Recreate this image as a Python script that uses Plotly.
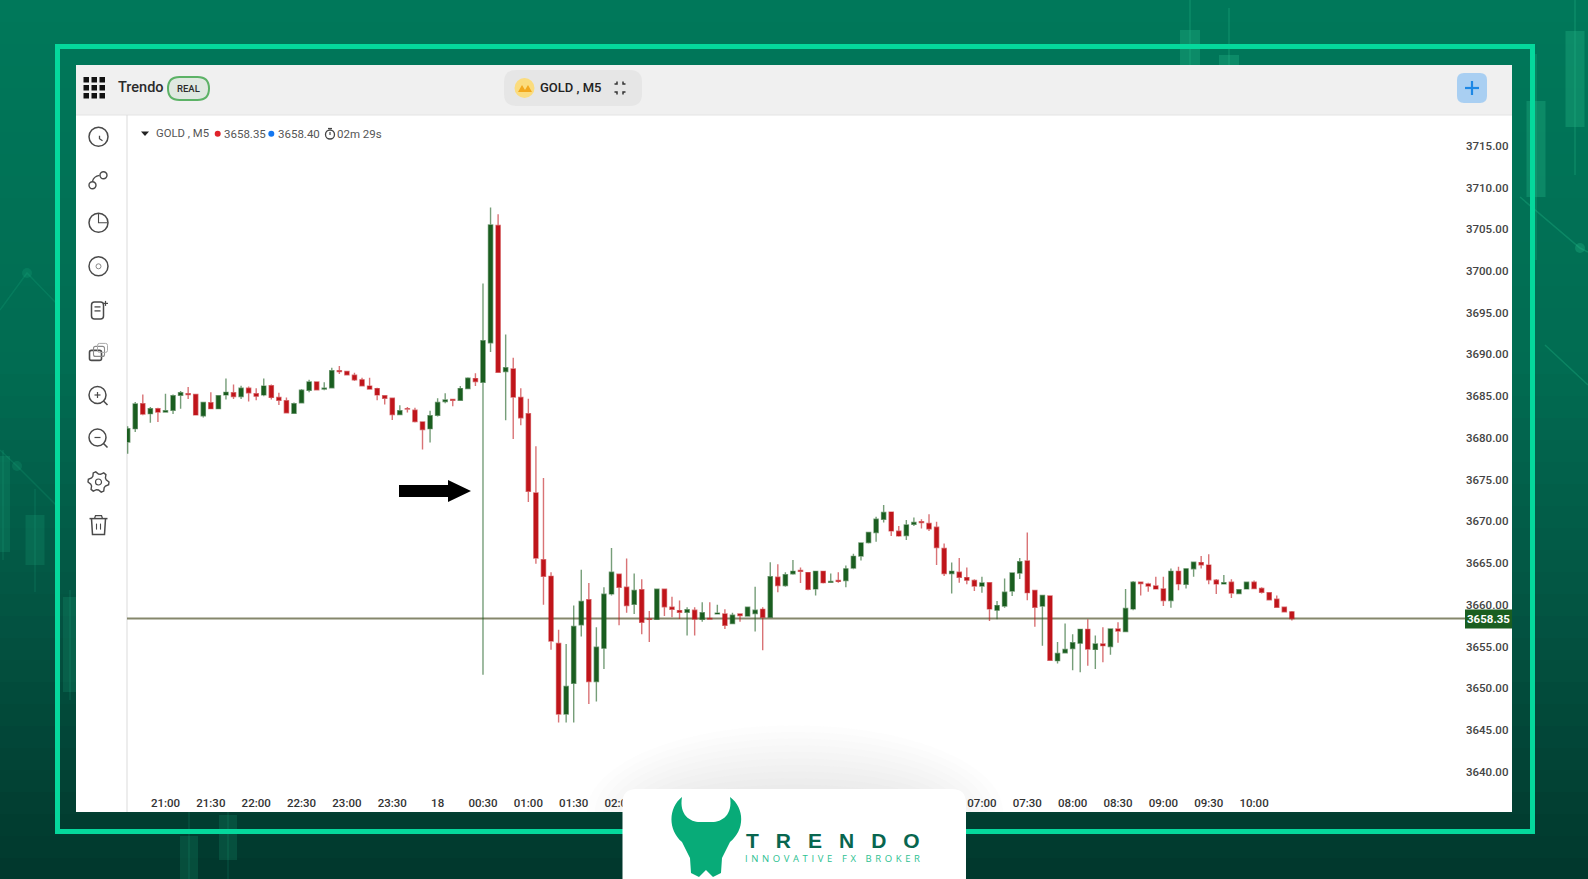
import math
import plotly.graph_objects as go

W, H = 1588, 879

open_prices = [
    3679.5,3681.1,3684.1,3682.9,3683.5,3683.1,3683.3,3685.1,3685.3,3685.2,
    3682.65,3684.2,3683.5,3685.15,3685.4,3684.95,3685.95,3685.3,3685.15,3686.25,
    3684.85,3684.45,3682.95,3684.2,3685.7,3686.7,3685.85,3686.0,3688.05,3687.95,
    3687.5,3686.95,3686.2,3685.9,3685.05,3684.75,3682.8,3683.5,3683.3,3681.9,
    3681.1,3682.7,3684.35,3684.6,3684.5,3685.9,3687.1,3686.65,3691.4,3705.45,
    3687.95,3688.25,3684.85,3682.9,3673.4,3665.4,3663.4,3655.35,3646.9,3650.6,
    3657.6,3660.6,3650.8,3654.8,3661.3,3663.65,3662.1,3660.05,3661.8,3658.3,
    3658.25,3661.85,3659.7,3659.3,3659.1,3659.35,3658.25,3658.35,3658.9,3658.9,
    3657.75,3658.9,3658.65,3658.95,3659.45,3658.5,3663.3,3662.3,3663.7,3664.1,
    3663.85,3661.9,3664.0,3662.7,3662.9,3662.9,3664.4,3665.85,3667.45,3668.65,
    3670.25,3671.1,3668.8,3668.3,3669.65,3669.95,3669.75,3669.3,3666.75,3663.75,
    3663.9,3663.25,3662.9,3662.25,3662.65,3659.35,3659.85,3661.65,3663.8,3665.25,
    3661.7,3659.85,3661.05,3653.3,3654.25,3654.75,3655.4,3657.05,3654.65,3655.3,
    3655.0,3657.1,3656.8,3659.5,3662.7,3662.5,3662.25,3661.9,3660.5,3664.0,
    3662.45,3664.3,3665.05,3664.75,3662.95,3662.5,3662.7,3661.35,3661.9,3662.7,
    3661.95,3661.45,3660.65,3659.7,3659.15,
]
high_prices = [
    3681.4,3684.3,3685.2,3683.7,3683.6,3685.3,3685.2,3685.6,3686.1,3685.2,
    3684.3,3685.45,3685.1,3687.1,3686.4,3686.25,3686.15,3685.95,3687.1,3686.4,
    3685.4,3684.85,3684.25,3685.85,3686.95,3686.75,3686.65,3688.4,3688.6,3688.05,
    3687.8,3687.2,3687.2,3686.0,3685.15,3684.8,3683.9,3683.7,3683.6,3681.95,
    3683.25,3684.75,3685.35,3684.6,3686.2,3687.25,3687.75,3698.5,3707.6,3706.8,
    3692.4,3689.6,3685.95,3684.7,3679.0,3675.2,3663.9,3657.0,3655.3,3659.9,
    3664.2,3662.6,3657.3,3662.1,3666.8,3663.65,3665.55,3663.75,3663.05,3659.25,
    3661.85,3661.85,3660.95,3660.5,3659.7,3659.7,3660.3,3660.3,3660.0,3659.45,
    3659.05,3658.95,3659.75,3662.15,3659.7,3665.1,3664.85,3663.9,3665.35,3664.45,
    3663.9,3664.0,3664.05,3663.75,3663.9,3664.7,3666.1,3667.5,3668.75,3670.55,
    3671.95,3671.15,3669.45,3670.15,3670.45,3670.25,3670.85,3669.95,3667.35,3665.05,
    3665.6,3664.45,3663.05,3663.35,3662.65,3660.45,3663.15,3663.85,3665.6,3668.65,
    3661.75,3661.2,3661.05,3655.55,3657.75,3656.45,3657.1,3658.25,3656.3,3657.3,
    3657.15,3657.9,3661.9,3662.85,3662.7,3662.65,3663.35,3663.35,3664.35,3664.55,
    3664.35,3665.1,3665.85,3666.05,3663.1,3663.55,3663.05,3661.9,3662.75,3662.9,
    3662.1,3661.5,3661.1,3659.8,3659.25,
]
low_prices = [
    3678.1,3680.7,3682.7,3681.8,3681.9,3683.0,3682.85,3683.5,3684.65,3682.7,
    3682.45,3683.45,3683.45,3684.6,3684.65,3684.65,3684.35,3684.5,3685.0,3684.6,
    3683.95,3683.0,3682.9,3684.15,3685.45,3685.7,3685.7,3685.95,3687.65,3687.5,
    3686.8,3686.15,3685.75,3684.5,3684.0,3682.15,3682.75,3683.05,3681.85,3678.6,
    3679.45,3682.55,3684.15,3683.8,3684.45,3685.85,3686.2,3651.6,3690.3,3687.85,
    3682.1,3679.85,3681.5,3672.3,3664.9,3660.0,3654.6,3645.9,3645.9,3645.9,
    3656.2,3648.1,3648.4,3652.3,3661.1,3657.55,3659.05,3658.9,3656.45,3655.55,
    3658.2,3658.65,3658.5,3658.3,3656.3,3656.3,3657.95,3658.25,3658.9,3657.1,
    3657.7,3657.95,3658.55,3656.8,3654.55,3658.4,3661.5,3662.15,3663.6,3662.6,
    3661.75,3661.1,3662.55,3662.65,3662.65,3662.1,3664.25,3665.3,3667.35,3667.55,
    3669.85,3668.25,3668.15,3667.75,3669.45,3669.15,3668.85,3664.75,3663.45,3661.35,
    3662.65,3662.45,3661.65,3661.45,3658.05,3658.25,3659.65,3661.05,3663.1,3660.55,
    3657.35,3655.1,3653.3,3652.95,3654.15,3652.15,3651.9,3652.7,3652.3,3653.1,
    3654.0,3655.45,3656.7,3659.35,3661.1,3661.55,3661.85,3659.85,3659.65,3661.75,
    3661.95,3663.35,3664.35,3662.45,3661.3,3662.5,3660.8,3661.3,3661.85,3661.9,
    3661.35,3660.5,3659.6,3659.1,3658.1,
]
close_prices = [
    3681.1,3684.05,3682.85,3683.5,3683.1,3683.25,3685.05,3685.4,3685.2,3682.75,
    3684.25,3683.5,3685.05,3685.45,3684.95,3685.95,3685.4,3685.0,3686.2,3684.85,
    3684.5,3683.0,3684.1,3685.7,3686.7,3685.75,3685.95,3688.05,3687.95,3687.55,
    3686.95,3686.25,3685.85,3685.15,3684.75,3682.8,3683.25,3683.45,3681.95,3681.0,
    3682.65,3684.25,3684.55,3684.5,3685.9,3687.15,3686.75,3691.65,3705.5,3687.85,
    3688.4,3684.9,3682.4,3673.6,3665.6,3663.4,3655.65,3646.9,3650.2,3657.4,
    3660.4,3650.8,3654.9,3661.25,3663.9,3662.1,3659.9,3661.7,3657.9,3658.25,
    3661.85,3659.75,3659.45,3659.1,3659.4,3658.3,3659.05,3658.3,3659.0,3657.55,
    3658.75,3658.7,3659.7,3659.35,3658.5,3663.35,3662.3,3663.6,3664.0,3664.0,
    3661.85,3664.0,3662.65,3662.8,3662.8,3664.3,3665.8,3667.4,3668.65,3670.25,
    3671.05,3668.85,3668.25,3669.55,3669.85,3669.85,3669.1,3666.85,3663.75,3664.0,
    3663.3,3662.95,3662.25,3662.6,3659.5,3659.9,3661.5,3663.8,3665.15,3661.45,
    3659.7,3661.1,3653.35,3654.15,3654.65,3655.45,3657.05,3654.7,3655.3,3655.1,
    3657.1,3656.85,3659.55,3662.7,3662.55,3662.25,3661.9,3660.5,3664.0,3662.5,
    3664.3,3665.1,3664.8,3663.0,3662.5,3662.65,3661.4,3661.8,3662.7,3661.95,
    3661.5,3660.6,3659.7,3659.15,3658.35,
]
bar_index = list(range(len(close_prices)))

time_tick_positions = [5, 11, 17, 23, 29, 35, 41, 47, 53, 59, 65, 113, 119, 125, 131, 137, 143, 149]
time_tick_labels = ["21:00", "21:30", "22:00", "22:30", "23:00", "23:30", "18", "00:30", "01:00",
                    "01:30", "02:00", "07:00", "07:30", "08:00", "08:30", "09:00", "09:30", "10:00"]
price_ticks = [3715, 3710, 3705, 3700, 3695, 3690, 3685, 3680, 3675, 3670, 3665, 3660, 3655, 3650, 3645, 3640]
price_tick_labels = ["3715.00", "3710.00", "3705.00", "3700.00", "3695.00", "3690.00", "3685.00", "3680.00",
                     "3675.00", "3670.00", "3665.00", "3660.00", "3655.00", "3650.00", "3645.00", "3640.00"]
current_price = 3658.35
ask_price = 3658.40

GREEN = "#1a5e20"
RED = "#c0151b"


def fx(x):
    return x / W


def fy(y):
    return 1 - y / H


shapes = []


def rect(x0, y0, x1, y1, fill, line=None, lw=0, layer="below", opacity=1):
    shapes.append(dict(type="rect", xref="paper", yref="paper", x0=fx(x0), x1=fx(x1), y0=fy(y1), y1=fy(y0),
                       fillcolor=fill, line=dict(color=line or "rgba(0,0,0,0)", width=lw), layer=layer, opacity=opacity))


def circle(cx, cy, rx, ry=None, fill="rgba(0,0,0,0)", line=None, lw=0, layer="below", opacity=1):
    ry = rx if ry is None else ry
    shapes.append(dict(type="circle", xref="paper", yref="paper", x0=fx(cx - rx), x1=fx(cx + rx), y0=fy(cy + ry), y1=fy(cy - ry),
                       fillcolor=fill, line=dict(color=line or "rgba(0,0,0,0)", width=lw), layer=layer, opacity=opacity))


def path(cmds, fill="rgba(0,0,0,0)", line=None, lw=0, layer="below"):
    """cmds: list of (letter, x, y, x, y...) in page pixels"""
    out = []
    for c in cmds:
        pts = c[1:]
        s = c[0]
        for i in range(0, len(pts), 2):
            s += f" {fx(pts[i]):.5f},{fy(pts[i + 1]):.5f}"
        out.append(s)
    shapes.append(dict(type="path", xref="paper", yref="paper", path=" ".join(out), fillcolor=fill,
                       line=dict(color=line or "rgba(0,0,0,0)", width=lw), layer=layer))


def poly(points, fill="rgba(0,0,0,0)", line=None, lw=0, closed=False, layer="below"):
    cmds = [("M",) + points[0]] + [("L",) + p for p in points[1:]]
    if closed:
        cmds.append(("Z",))
    path(cmds, fill, line, lw, layer)


def round_rect(x0, y0, x1, y1, r, fill, line=None, lw=0, layer="below"):
    path([("M", x0 + r, y0), ("L", x1 - r, y0), ("Q", x1, y0, x1, y0 + r), ("L", x1, y1 - r), ("Q", x1, y1, x1 - r, y1),
          ("L", x0 + r, y1), ("Q", x0, y1, x0, y1 - r), ("L", x0, y0 + r), ("Q", x0, y0, x0 + r, y0), ("Z",)],
         fill, line, lw, layer)


# backdrop gradient
stops = [(0, (0, 120, 90)), (350, (1, 108, 82)), (600, (3, 84, 66)), (879, (1, 54, 43))]
band = 22
for y in range(0, H, band):
    for (a, ca), (b, cb) in zip(stops, stops[1:]):
        if a <= y <= b:
            t = (y - a) / (b - a)
            col = tuple(round(ca[k] + (cb[k] - ca[k]) * t) for k in range(3))
            rect(0, y, W, y + band + 1, f"rgb{col}")
            break

# faint backdrop candles and lines
DECO_R = "rgba(40,190,140,0.30)"
DECO_L = "rgba(40,190,140,0.16)"
for cx, top, bot, b0, b1, bw, deco in [(1190, 0, 70, 30, 65, 20, DECO_R), (1229, 8, 70, 55, 65, 20, DECO_R),
                                       (1536, 54, 260, 101, 197, 19, DECO_R), (1575, 0, 175, 31, 127, 19, DECO_R),
                                       (35, 489, 592, 515, 565, 19, DECO_L), (3, 450, 560, 456, 552, 14, DECO_L),
                                       (70, 590, 700, 597, 692, 14, DECO_L), (189, 810, 879, 836, 879, 18, DECO_L),
                                       (228, 790, 879, 815, 860, 18, DECO_L)]:
    rect(cx - 0.7, top, cx + 0.7, bot, deco)
    rect(cx - bw / 2, b0, cx + bw / 2, b1, deco)
poly([(1520, 197), (1580, 248), (1588, 252)], line=DECO_R, lw=1.5)
poly([(1545, 345), (1588, 385)], line=DECO_R, lw=1.5)
poly([(0, 310), (27, 273), (58, 305)], line=DECO_L, lw=1.5)
poly([(0, 450), (17, 466), (58, 507)], line=DECO_L, lw=1.5)
circle(1580, 248, 5, fill=DECO_R)
circle(27, 273, 5, fill=DECO_L)
circle(17, 466, 5, fill=DECO_L)

# bright frame
FRAME = "#05d89c"
rect(55, 44, 1535, 49, FRAME)
rect(55, 829, 1535, 834, FRAME)
rect(55, 44, 60, 834, FRAME)
rect(1530, 44, 1535, 834, FRAME)

# app panel
rect(76, 65, 1512, 812, "#ffffff")
rect(76, 65, 1512, 115, "#f0f0f0")
rect(76, 114.5, 1512, 115.5, "#e4e4e4")
rect(126.5, 115, 127.5, 812, "#dcdcdc")

# soft shadow over the panel behind the logo card (half ellipses resting on the panel's lower edge)
for k in range(12):
    rx, ry = 120 + k * 8, 14 + k * 6.6
    c = 0.5523
    sx, sy = 795, 812
    path([("M", sx - rx, sy), ("C", sx - rx, sy - c * ry, sx - c * rx, sy - ry, sx, sy - ry),
          ("C", sx + c * rx, sy - ry, sx + rx, sy - c * ry, sx + rx, sy), ("Z",)],
         fill="rgba(143,151,160,0.018)")

# top bar: grid icon
for r in range(3):
    for c_ in range(3):
        rect(83.5 + c_ * 8, 77 + r * 8, 89 + c_ * 8, 82.5 + r * 8, "#111111")
round_rect(168, 77, 209, 100, 11.5, "#dfe8e0", "#5cb266", 2)
round_rect(504, 70, 642, 106, 12, "#e6e6e6")
circle(524.5, 88, 10, fill="#fbdc7e")
poly([(518, 92), (522, 85), (525, 90), (528, 85), (532, 92)], fill="#f2a81e", closed=True)
for sx_, sy_ in [(-1, -1), (1, -1), (-1, 1), (1, 1)]:
    cx, cy = 620 + sx_ * 3, 88 + sy_ * 4
    poly([(cx + sx_ * 2.5, cy), (cx, cy), (cx, cy + sy_ * 2.5)], line="#333333", lw=1.5)
round_rect(1457, 73, 1487, 103, 7, "#a9cff2")
poly([(1465, 88), (1479, 88)], line="#1e88e5", lw=2.2)
poly([(1472, 81), (1472, 95)], line="#1e88e5", lw=2.2)

# legend row glyphs
poly([(141, 131.5), (149, 131.5), (145, 136)], fill="#222222", closed=True)
circle(217.7, 133.7, 3, fill="#e0222a")
circle(271.3, 133.7, 3, fill="#1477f0")
circle(330, 134.5, 4.5, line="#444444", lw=1.3)
poly([(330, 132), (330, 135)], line="#444444", lw=1.2)
poly([(328, 128.5), (332, 128.5)], line="#444444", lw=1.2)

# left tool icons
ICON = "#4a4a4a"
icx = 98.5
ys = [136.7, 180.3, 222.8, 266.3, 309.9, 352.4, 396, 438.5, 482, 525.6]
circle(icx, ys[0], 9.5, line=ICON, lw=1.5)
poly([(icx + 1, ys[0] - 1), (icx + 1, ys[0] + 2), (icx + 4, ys[0] + 4)], line=ICON, lw=1.3)
circle(icx - 6, ys[1] + 5, 3.5, line=ICON, lw=1.4)
circle(icx + 5, ys[1] - 5, 3.5, line=ICON, lw=1.4)
path([("M", icx - 6, ys[1] + 1), ("Q", icx - 5, ys[1] - 4, icx + 1, ys[1] - 5)], line=ICON, lw=1.3)
circle(icx, ys[2], 9.5, line=ICON, lw=1.5)
poly([(icx, ys[2] - 9), (icx, ys[2]), (icx + 9, ys[2])], line=ICON, lw=1.1)
circle(icx, ys[3], 9.5, line=ICON, lw=1.5)
circle(icx, ys[3], 2.5, line="#888888", lw=1.0)
round_rect(icx - 7, ys[4] - 8, icx + 5, ys[4] + 9, 3, "rgba(0,0,0,0)", ICON, 1.5)
for dy in (-3, 1):
    poly([(icx - 4, ys[4] + dy), (icx + 2, ys[4] + dy)], line=ICON, lw=1.3)
poly([(icx + 7, ys[4] - 9), (icx + 7, ys[4] - 4)], line=ICON, lw=1.2)
poly([(icx + 4.5, ys[4] - 6.5), (icx + 9.5, ys[4] - 6.5)], line=ICON, lw=1.2)
round_rect(icx - 9, ys[5] - 2, icx + 3, ys[5] + 8, 2, "rgba(0,0,0,0)", ICON, 1.6)
round_rect(icx - 5, ys[5] - 6, icx + 6, ys[5] + 4, 2, "rgba(0,0,0,0)", "#8a8a8a", 1.1)
round_rect(icx - 1, ys[5] - 9, icx + 9, ys[5] + 0, 2, "rgba(0,0,0,0)", "#aaaaaa", 1.0)
for k, y in enumerate((ys[6], ys[7])):
    circle(icx - 1, y - 1, 8.5, line=ICON, lw=1.5)
    poly([(icx + 5, y + 5), (icx + 9, y + 9)], line=ICON, lw=1.6)
    poly([(icx - 4, y - 1), (icx + 2, y - 1)], line=ICON, lw=1.2)
    if k == 0:
        poly([(icx - 1, y - 4), (icx - 1, y + 2)], line=ICON, lw=1.2)
gear = []
for n in range(24):
    radius = 10.5 if n % 4 in (0, 1) else 8
    ang = math.radians(n * 15)
    gear.append((icx + radius * math.cos(ang), ys[8] + radius * math.sin(ang)))
poly(gear, line=ICON, lw=1.4, closed=True)
circle(icx, ys[8], 3, line=ICON, lw=1.2)
poly([(icx - 9, ys[9] - 7), (icx + 9, ys[9] - 7)], line=ICON, lw=1.5)
poly([(icx - 4, ys[9] - 7), (icx - 3, ys[9] - 10), (icx + 3, ys[9] - 10), (icx + 4, ys[9] - 7)], line=ICON, lw=1.3)
poly([(icx - 7, ys[9] - 7), (icx - 6, ys[9] + 9), (icx + 6, ys[9] + 9), (icx + 7, ys[9] - 7)], line=ICON, lw=1.5)
poly([(icx - 2, ys[9] - 2), (icx - 2, ys[9] + 4)], line=ICON, lw=1.1)
poly([(icx + 2, ys[9] - 2), (icx + 2, ys[9] + 4)], line=ICON, lw=1.1)

# arrow
poly([(399, 485), (448, 485), (448, 480), (471, 491), (448, 502), (448, 497), (399, 497)], fill="#000000", closed=True)

# last-price line
shapes.append(dict(type="line", xref="paper", yref="y", x0=fx(127), x1=fx(1465), y0=current_price, y1=current_price,
                   line=dict(color="#85876c", width=2), layer="below"))

# price badge and logo card sit above the axes
rect(1465, 609.5, 1512, 628.5, "#1a5e20", layer="above")
round_rect(622.5, 789, 966, 900, 14, "#ffffff", layer="above")
path([("M", 682, 797), ("C", 668, 808, 668, 830, 682, 842), ("L", 690, 858), ("L", 691, 873), ("L", 699, 877), ("L", 706, 870),
      ("L", 713, 877), ("L", 721, 873), ("L", 722, 858), ("L", 730, 842), ("C", 745, 830, 745, 808, 730, 797),
      ("C", 733, 815, 722, 822, 712, 822), ("L", 700, 822), ("C", 690, 822, 679, 815, 682, 797), ("Z",)],
     fill="#08ab78", layer="above")

annotations = []


def note(text, x, y, size, color, anchor="left", weight=400, family="Roboto"):
    annotations.append(dict(text=text, xref="paper", yref="paper", x=fx(x), y=fy(y), xanchor=anchor, yanchor="middle",
                            showarrow=False, font=dict(family=family, size=size, color=color, weight=weight),
                            borderpad=0, borderwidth=0))


note("Trendo", 118, 88, 14.5, "#2b2b2b", weight=500)
note("REAL", 188.5, 88.5, 9.5, "#2b2b2b", anchor="center", weight=500)
note("GOLD , M5", 540, 88, 13, "#222222", weight=500)
note("GOLD , M5", 156, 133.5, 11.3, "#555555")
note("3658.35", 224, 133.5, 11.5, "#555555")
note(f"{ask_price:.2f}", 278, 133.5, 11.5, "#555555")
note("02m 29s", 337, 133.5, 11.5, "#555555")
note(f"{current_price:.2f}", 1488.5, 619, 11.5, "#ffffff", anchor="center", weight=700)
note("TRENDO", 841, 840, 21, "#08664f", anchor="center", weight=700, family="Liberation Sans")
note("INNOVATIVE FX BROKER", 834, 858, 9.5, "#2cc191", anchor="center", family="Open Sans")

fig = go.Figure(go.Candlestick(
    x=bar_index, open=open_prices, high=high_prices, low=low_prices, close=close_prices,
    whiskerwidth=0, line=dict(width=1.4),
    increasing=dict(fillcolor=GREEN, line=dict(color="rgba(26,94,32,0.6)", width=1.4)),
    decreasing=dict(fillcolor=RED, line=dict(color="rgba(192,21,27,0.6)", width=1.4)),
    showlegend=False,
))

fig.update_layout(
    width=W, height=H, autosize=False,
    margin=dict(l=0, r=0, t=0, b=0, pad=0),
    paper_bgcolor="#016b52", plot_bgcolor="rgba(0,0,0,0)",
    font=dict(family="Roboto", color="#333333"),
    boxgap=0.22, showlegend=False, shapes=shapes, annotations=annotations,
    xaxis=dict(domain=[fx(127), fx(1465)], range=[-0.09, 176.9], rangeslider=dict(visible=False),
               tickmode="array", tickvals=time_tick_positions, ticktext=time_tick_labels, showgrid=False, zeroline=False,
               showline=False, ticks="", tickfont=dict(family="Roboto", size=11.5, color="#333333", weight=500)),
    yaxis=dict(domain=[fy(794), fy(115)], range=[3637.32, 3718.69], side="right", tickmode="array",
               tickvals=price_ticks, ticktext=price_tick_labels, showgrid=False, zeroline=False, showline=False, ticks="",
               tickfont=dict(family="Roboto", size=11.5, color="#444444", weight=500)),
)

post = """
document.documentElement.style.overflow='hidden';
document.body.style.margin='0';
document.body.style.overflow='hidden';
document.querySelectorAll('.annotation-text').forEach(function(t){
  if(t.textContent==='TRENDO'){t.style.letterSpacing='17px';}
  if(t.textContent==='INNOVATIVE FX BROKER'){t.style.letterSpacing='3.6px';}
});
"""
fig.write_html("out.html", config=dict(displayModeBar=False), post_script=post)
